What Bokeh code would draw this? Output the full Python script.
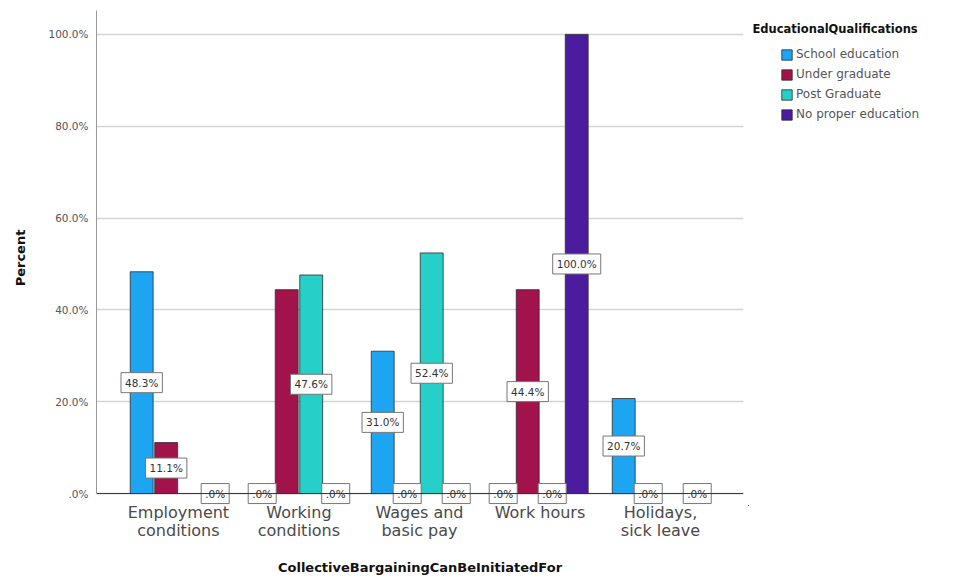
from bokeh.plotting import figure
from bokeh.layouts import row
from bokeh.models import (ColumnDataSource, Range1d, Legend, LegendItem, Label,
                          FixedTicker, LinearAxis, Span)
from bokeh.core.properties import value
from bokeh.transform import dodge
from bokeh.embed import file_html
from bokeh.resources import INLINE

categories = ["Employment conditions", "Working conditions", "Wages and basic pay",
              "Work hours", "Holidays, sick leave"]
tick_line1 = ["Employment", "Working", "Wages and", "Work hours", "Holidays,"]
tick_line2 = ["conditions", "conditions", "basic pay", " ", "sick leave"]
series = ["School education", "Under graduate", "Post Graduate", "No proper education"]
school = [48.3, 0.0, 31.0, 0.0, 20.7]
under_grad = [11.1, 44.4, 0.0, 44.4, 0.0]
post_grad = [None, 47.6, 52.4, 0.0, None]
no_proper = [0.0, 0.0, 0.0, 100.0, 0.0]
# which value labels are shown (SPSS hid the overlapping one)
show_label = [
    [True, True, True, True, True],
    [True, False, True, True, True],
    [False, True, True, True, False],
    [True, True, True, True, True],
]
y_ticks = [0, 20, 40, 60, 80, 100]
y_tick_labels = [".0%", "20.0%", "40.0%", "60.0%", "80.0%", "100.0%"]
legend_title = "EducationalQualifications"
x_title = "CollectiveBargainingCanBeInitiatedFor"
y_title = "Percent"

colors = ["#1ea5f2", "#a3134b", "#26d0c8", "#4b1c9e"]
values = [school, under_grad, post_grad, no_proper]
offsets = [-0.305, -0.1017, 0.1017, 0.305]
bar_w = 0.19
FONT = "DejaVu Sans"
cat_pos = list(range(len(categories)))
TOP, BOTTOM, H = 10, 76, 581

p = figure(x_range=Range1d(-0.680, 4.689), y_range=Range1d(-2.6, 105.2),
           width=748, height=H, output_backend="svg", toolbar_location=None,
           min_border_left=96, min_border_right=5, min_border_top=TOP,
           min_border_bottom=BOTTOM)
p.outline_line_color = None
p.background_fill_color = "white"

p.xgrid.grid_line_color = None
p.ygrid.ticker = FixedTicker(ticks=y_ticks)
p.ygrid.grid_line_color = "#d4d4d4"
p.ygrid.grid_line_width = 1.5

baseline = Span(location=0, dimension="width", line_color="#333333", line_width=1)
p.add_layout(baseline)

for s, vals, col, off in zip(series, values, colors, offsets):
    xs = [i for i, v in zip(cat_pos, vals) if v is not None]
    tops = [v for v in vals if v is not None]
    src = ColumnDataSource(dict(x=xs, top=tops))
    p.vbar(x=dodge("x", off), top="top", bottom=0, width=bar_w, source=src,
           fill_color=col, line_color="#2b2b2b", line_width=0.8)

for vals, off, shows in zip(values, offsets, show_label):
    lx = [i for i, v, sh in zip(cat_pos, vals, shows) if v is not None and sh]
    lv = [v for v, sh in zip(vals, shows) if v is not None and sh]
    ltxt = [(".0%" if v == 0 else f"{v:.1f}%") for v in lv]
    lsrc = ColumnDataSource(dict(x=lx, mid=[v / 2 for v in lv], txt=ltxt))
    p.text(x=dodge("x", off), y="mid", text="txt", source=lsrc,
           text_align="center", text_baseline="middle", text_font_size="10.5px",
           text_font=value(FONT), text_color="#333333",
           padding=[4, 4, 4, 4], background_fill_color="white",
           border_line_color="#777777", border_line_width=1)

# x axes: two stacked axes give two-line tick labels
ax1 = p.xaxis[0]
ax1.ticker = FixedTicker(ticks=cat_pos)
ax1.major_label_overrides = {i: t for i, t in zip(cat_pos, tick_line1)}
ax2 = LinearAxis(ticker=FixedTicker(ticks=cat_pos),
                 major_label_overrides={i: t for i, t in zip(cat_pos, tick_line2)})
p.add_layout(ax2, "below")
for ax in (ax1, ax2):
    ax.major_label_text_font = FONT
    ax.major_label_text_font_size = "16px"
    ax.major_label_text_color = "#4a4a4a"
    ax.major_tick_line_color = None
    ax.minor_tick_line_color = None
    ax.major_tick_out = 0
    ax.major_tick_in = 0
    ax.minor_tick_out = 0
    ax.minor_tick_in = 0
    ax.axis_line_color = None
ax1.major_label_standoff = -3
ax2.major_label_standoff = -4
ax2.axis_label = x_title
ax2.axis_label_text_font = FONT
ax2.axis_label_text_font_style = "bold"
ax2.axis_label_text_font_size = "13px"
ax2.axis_label_text_color = "#111111"
ax2.axis_label_standoff = 17

p.yaxis.ticker = FixedTicker(ticks=y_ticks)
p.yaxis.bounds = (0, 105.2)
p.yaxis.major_label_overrides = {t: l for t, l in zip(y_ticks, y_tick_labels)}
p.yaxis.major_label_text_font = FONT
p.yaxis.major_label_text_font_size = "10.5px"
p.yaxis.major_label_text_color = "#555555"
p.yaxis.major_tick_line_color = None
p.yaxis.major_tick_out = 0
p.yaxis.minor_tick_line_color = None
p.yaxis.minor_tick_out = 0
p.yaxis.axis_line_color = "#999999"
p.yaxis.major_label_standoff = 8
p.yaxis.axis_label = y_title
p.yaxis.axis_label_text_font = FONT
p.yaxis.axis_label_text_font_style = "bold"
p.yaxis.axis_label_text_font_size = "13px"
p.yaxis.axis_label_text_color = "#111111"
p.yaxis.axis_label_standoff = 17

# legend panel (frame aligned with the main frame: TOP..H-BOTTOM)
lw = 214
fh = H - TOP - BOTTOM
q = figure(width=lw, height=H, x_range=Range1d(0, lw), y_range=Range1d(0, fh),
           x_axis_type=None, y_axis_type=None, output_backend="svg",
           toolbar_location=None, min_border_left=0, min_border_right=0,
           min_border_top=TOP, min_border_bottom=BOTTOM)
q.outline_line_color = None
q.grid.visible = False
keys = []
for col in colors:
    # one key glyph parked far outside the visible range; only its legend swatch shows
    keys.append(q.vbar(x=[-5000], top=[-5000], bottom=-5001, width=1, fill_color=col,
                       line_color="#2b2b2b", line_width=0.8))
leg_h = 4 * 14 + 3 * 6
legend = Legend(items=[LegendItem(label=s, renderers=[r]) for s, r in zip(series, keys)],
                location=(32, fh + TOP - 47 - leg_h), orientation="vertical")
legend.border_line_color = None
legend.background_fill_alpha = 0
legend.padding = 0
legend.margin = 0
legend.spacing = 6
legend.glyph_width = 13
legend.glyph_height = 13
legend.label_height = 14
legend.label_standoff = 3
legend.label_text_font = FONT
legend.label_text_font_size = "12px"
legend.label_text_color = "#555555"
legend.label_text_baseline = "middle"
q.add_layout(legend, "center")

title = Label(x=4, y=fh + TOP - 28, text=legend_title, text_font=FONT,
              text_font_style="bold", text_font_size="11.5px", text_color="#111111",
              text_baseline="middle", text_align="left")
q.add_layout(title)

layout = row(p, q, spacing=0)
open("out.html", "w").write(file_html(layout, INLINE))
